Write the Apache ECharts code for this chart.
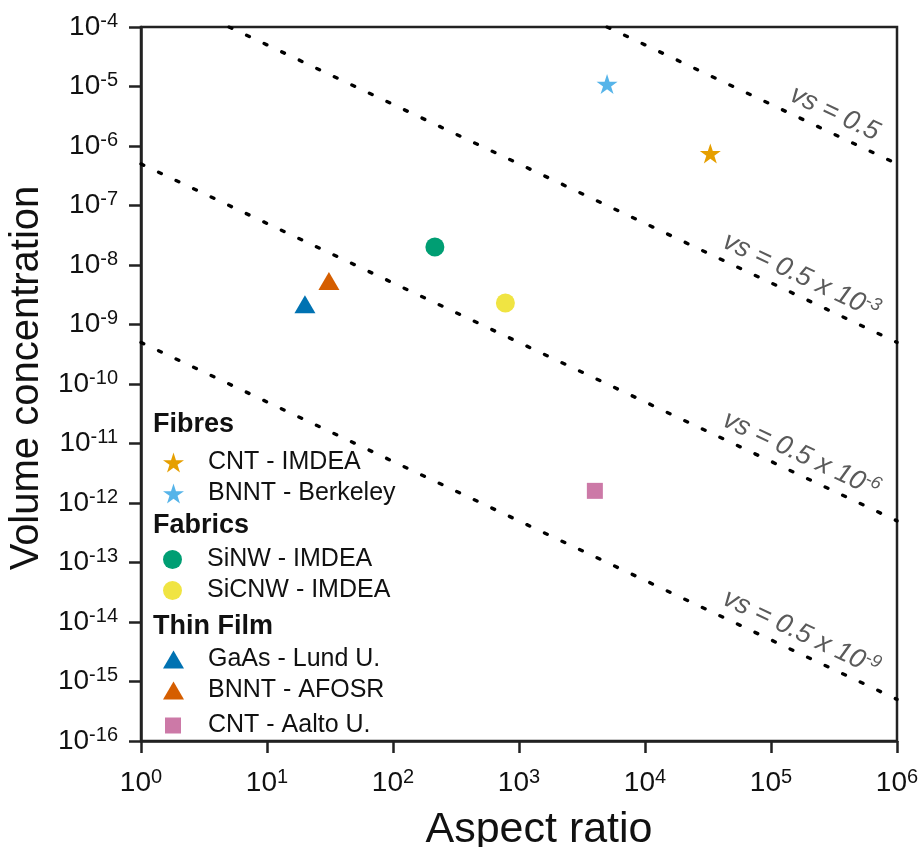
<!DOCTYPE html>
<html>
<head>
<meta charset="utf-8">
<style>
  html, body { margin: 0; padding: 0; background: #fff; }
  #chart { width: 923px; height: 847px; }
</style>
<script src="https://cdn.jsdelivr.net/npm/echarts@6/dist/echarts.min.js"></script>
</head>
<body>
<div id="chart"></div>
<script>
// data points: [aspect ratio, volume concentration]
const cntImdea = [[3.3e4, 7.5e-7]]
const bnntBerkeley = [[5.0e3, 1.1e-5]]
const sinwImdea = [[215, 2.0e-8]]
const sicnwImdea = [[780, 2.3e-9]]
const gaasLund = [[20, 2.2e-9]]
const bnntAfosr = [[31, 5.4e-9]]
const cntAalto = [[4.0e3, 1.6e-12]]

// constant-vs reference lines (start / end points inside the frame)
const vsText = ['0.5', '0.5 x 10', '0.5 x 10', '0.5 x 10']
const vsExp = ['', '-3', '-6', '-9']
const vsStart = [[5e3, 1e-4], [5, 1e-4], [1, 5e-7], [1, 5e-10]]
const vsEnd = [[1e6, 5e-7], [1e6, 5e-10], [1e6, 5e-13], [1e6, 5e-16]]

const FONT = "'Liberation Sans', Arial, sans-serif"
const STAR = 'path://M50,0 L61.23,34.55 L97.55,34.55 L68.16,55.9 L79.39,90.45 L50,69.1 L20.61,90.45 L31.84,55.9 L2.45,34.55 L38.77,34.55 Z'

const myChart = echarts.init(document.getElementById('chart'))

// 10^n 形式的刻度
function powLabel(v) {
  const e = Math.round(Math.log10(v))
  return '{b|10}{s|' + e + '}'
}
const tickRich = {
  b: { fontSize: 28, lineHeight: 32, color: '#111', fontFamily: FONT },
  s: { fontSize: 20, lineHeight: 20, color: '#111', fontFamily: FONT, verticalAlign: 'top' }
}

const axisCommon = {
  type: 'log',
  logBase: 10,
  interval: 1,
  axisLine: { show: true, lineStyle: { color: '#222', width: 2.5 } },
  axisTick: { show: true, length: 12, lineStyle: { color: '#222', width: 2.5 } },
  minorTick: { show: false },
  splitLine: { show: false },
  nameLocation: 'middle'
}

const vsData = vsText.map((t, i) => ({
  coords: [vsStart[i], vsEnd[i]],
  label: {
    formatter: '{t|vs = ' + t + '}' + (vsExp[i] ? '{e|' + vsExp[i] + '}' : ''),
    distance: i === 0 ? [30, 4] : [30, 4]
  }
}))

function scatter(name, data, symbol, size, color) {
  return {
    type: 'scatter',
    name: name,
    data: data,
    symbol: symbol,
    symbolSize: size,
    symbolKeepAspect: true,
    itemStyle: { color: color, opacity: 1 },
    z: 5
  }
}

function groupLegend(names, top, w, h, left, pad) {
  return {
    data: names,
    orient: 'vertical',
    left: left,
    top: top,
    padding: 0,
    itemGap: 6,
    itemWidth: w,
    itemHeight: h,
    selectedMode: false,
    textStyle: { fontSize: 25, color: '#111', fontFamily: FONT, padding: [0, 0, 0, pad] }
  }
}

function header(text, y) {
  return {
    type: 'text',
    x: 153,
    y: y,
    style: { text: text, font: 'bold 27px ' + FONT, fill: '#111', verticalAlign: 'middle' }
  }
}

const option = {
  backgroundColor: '#fff',
  animation: false,
  grid: {
    left: 141, right: 26, top: 27, bottom: 106,
    show: true, borderColor: '#222', borderWidth: 2.5,
    outerBoundsMode: 'none'
  },
  xAxis: Object.assign({}, axisCommon, {
    min: 1, max: 1e6,
    name: 'Aspect ratio',
    nameGap: 68,
    nameTextStyle: { fontSize: 43, color: '#111', fontFamily: FONT, padding: [0, 0, 0, 40] },
    axisLabel: { formatter: powLabel, rich: tickRich, margin: 26 }
  }),
  yAxis: Object.assign({}, axisCommon, {
    min: 1e-16, max: 1e-4,
    name: 'Volume concentration',
    nameGap: 87,
    nameTextStyle: { fontSize: 40, color: '#111', fontFamily: FONT, padding: [0, 0, 0, 12] },
    axisLabel: { formatter: powLabel, rich: tickRich, margin: 23 }
  }),
  legend: [
    groupLegend(['CNT - IMDEA', 'BNNT - Berkeley'], 450, 21, 20, 163, 19),
    groupLegend(['SiNW - IMDEA', 'SiCNW - IMDEA'], 547, 21, 19, 163, 19),
    groupLegend(['GaAs - Lund U.', 'BNNT - AFOSR'], 647, 21, 18, 163, 19),
    groupLegend(['CNT - Aalto U.'], 713, 16, 16, 165, 22)
  ],
  graphic: [
    header('Fibres', 425),
    header('Fabrics', 526),
    header('Thin Film', 627)
  ],
  series: [
    {
      type: 'lines',
      coordinateSystem: 'cartesian2d',
      silent: true,
      data: vsData,
      lineStyle: { color: '#000', width: 3.4, type: [3, 16.4], cap: 'round', opacity: 1 },
      label: {
        show: true,
        position: 'insideEndTop',
        rich: {
          t: { fontSize: 27, fontStyle: 'italic', color: '#5a5a5a', fontFamily: FONT, lineHeight: 30 },
          e: { fontSize: 18, fontStyle: 'italic', color: '#5a5a5a', fontFamily: FONT, lineHeight: 18, verticalAlign: 'top' }
        }
      },
      z: 2
    },
    scatter('CNT - IMDEA', cntImdea, STAR, 21, '#E69F00'),
    scatter('BNNT - Berkeley', bnntBerkeley, STAR, 21, '#56B4E9'),
    scatter('SiNW - IMDEA', sinwImdea, 'circle', 19, '#009E73'),
    scatter('SiCNW - IMDEA', sicnwImdea, 'circle', 19, '#F0E442'),
    scatter('GaAs - Lund U.', gaasLund, 'triangle', [21, 18], '#0072B2'),
    scatter('BNNT - AFOSR', bnntAfosr, 'triangle', [21, 18], '#D55E00'),
    scatter('CNT - Aalto U.', cntAalto, 'rect', 16, '#CC79A7')
  ]
}

myChart.setOption(option)
</script>
</body>
</html>
